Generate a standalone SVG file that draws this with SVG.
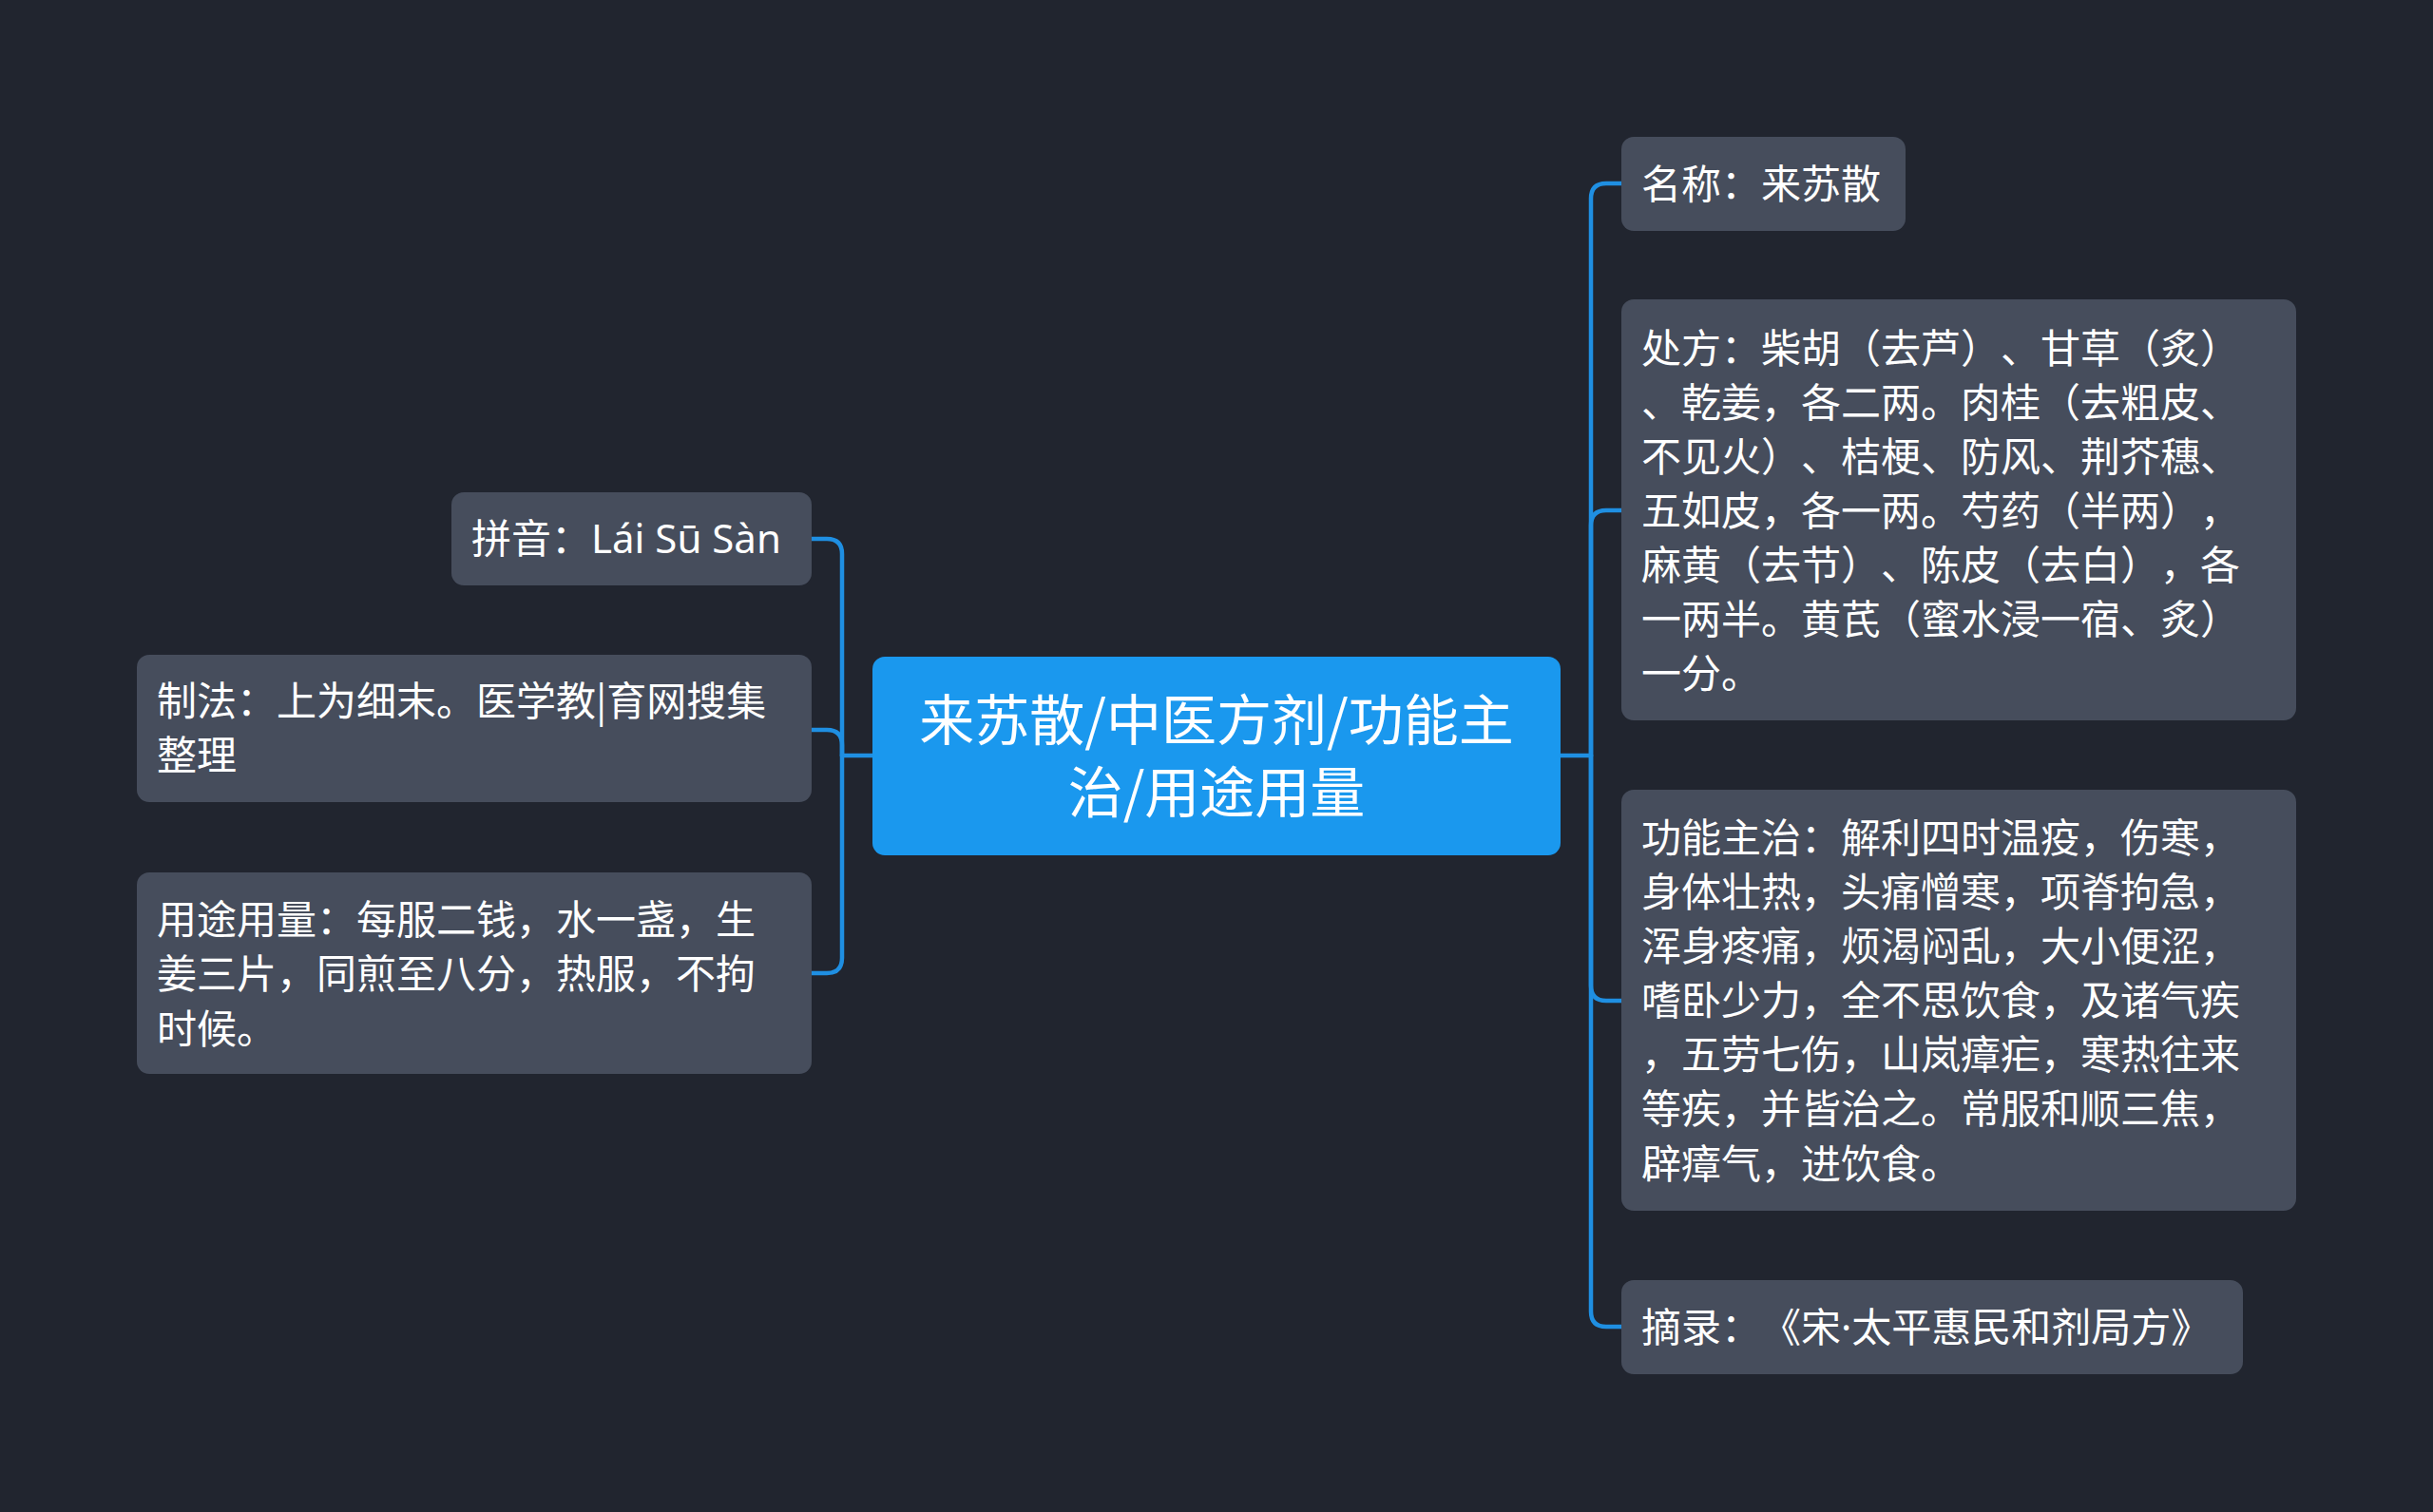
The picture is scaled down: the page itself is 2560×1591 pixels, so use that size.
<svg xmlns="http://www.w3.org/2000/svg" width="2560" height="1591" viewBox="0 0 2560 1591">
<style>
.bg{fill:#21252f}
.node{fill:#464d5c}
.root{fill:#1a98ee}
text{text-spacing-trim:space-all}
.t{font-family:"Noto Sans CJK SC","Noto Sans",sans-serif;font-size:42px;fill:#ffffff}
.rt{font-family:"Noto Sans CJK SC","Noto Sans",sans-serif;font-size:58px;fill:#ffffff;text-anchor:middle}
.lat{font-family:"Noto Sans","Noto Sans CJK SC",sans-serif}
.c{fill:none;stroke:#1f8fe2;stroke-width:4.5;stroke-linecap:round;stroke-linejoin:round}
</style>
<rect class="bg" x="0" y="0" width="2560" height="1591"/>
<g id="connectors">
<path class="c" d="M918,795 H886"/>
<path class="c" d="M886,795 V583 Q886,567 870,567 H854"/>
<path class="c" d="M886,795 V784 Q886,768 870,768 H854"/>
<path class="c" d="M886,795 V1008 Q886,1024 870,1024 H854"/>
<path class="c" d="M1642,795 H1674"/>
<path class="c" d="M1674,795 V209 Q1674,193 1690,193 H1706"/>
<path class="c" d="M1674,795 V553 Q1674,537 1690,537 H1706"/>
<path class="c" d="M1674,795 V1037 Q1674,1053 1690,1053 H1706"/>
<path class="c" d="M1674,795 V1380 Q1674,1396 1690,1396 H1706"/>
</g>
<g id="root">
<rect class="root" x="918" y="691" width="724" height="209" rx="13"/>
<text class="rt" x="1280" y="779">来苏散/中医方剂/功能主</text>
<text class="rt" x="1280" y="855">治/用途用量</text>
</g>
<g id="pinyin">
<rect class="node" x="475" y="518" width="379" height="98" rx="13"/>
<text class="t" x="496" y="582">拼音：<tspan class="lat">Lái Sū Sàn</tspan></text>
</g>
<g id="zhifa">
<rect class="node" x="144" y="689" width="710" height="155" rx="13"/>
<text class="t" x="165" y="753">制法：上为细末。医学教|育网搜集</text>
<text class="t" x="165" y="810">整理</text>
</g>
<g id="yongtu">
<rect class="node" x="144" y="918" width="710" height="212" rx="13"/>
<text class="t" x="165" y="983">用途用量：每服二钱，水一盏，生</text>
<text class="t" x="165" y="1040">姜三片，同煎至八分，热服，不拘</text>
<text class="t" x="165" y="1098">时候。</text>
</g>
<g id="mingcheng">
<rect class="node" x="1706" y="144" width="299" height="99" rx="13"/>
<text class="t" x="1727" y="209">名称：来苏散</text>
</g>
<g id="chufang">
<rect class="node" x="1706" y="315" width="710" height="443" rx="13"/>
<text class="t" x="1727" y="382">处方：柴胡（去芦）、甘草（炙）</text>
<text class="t" x="1727" y="439">、乾姜，各二两。肉桂（去粗皮、</text>
<text class="t" x="1727" y="496">不见火）、桔梗、防风、荆芥穗、</text>
<text class="t" x="1727" y="553">五如皮，各一两。芍药（半两），</text>
<text class="t" x="1727" y="610">麻黄（去节）、陈皮（去白），各</text>
<text class="t" x="1727" y="667">一两半。黄芪（蜜水浸一宿、炙）</text>
<text class="t" x="1727" y="724">一分。</text>
</g>
<g id="gongneng">
<rect class="node" x="1706" y="831" width="710" height="443" rx="13"/>
<text class="t" x="1727" y="897">功能主治：解利四时温疫，伤寒，</text>
<text class="t" x="1727" y="954">身体壮热，头痛憎寒，项脊拘急，</text>
<text class="t" x="1727" y="1011">浑身疼痛，烦渴闷乱，大小便涩，</text>
<text class="t" x="1727" y="1068">嗜卧少力，全不思饮食，及诸气疾</text>
<text class="t" x="1727" y="1125">，五劳七伤，山岚瘴疟，寒热往来</text>
<text class="t" x="1727" y="1182">等疾，并皆治之。常服和顺三焦，</text>
<text class="t" x="1727" y="1240">辟瘴气，进饮食。</text>
</g>
<g id="zhailu">
<rect class="node" x="1706" y="1347" width="654" height="99" rx="13"/>
<text class="t" x="1727" y="1412">摘录：《宋<tspan class="lat">·</tspan>太平惠民和剂局方》</text>
</g>
</svg>
